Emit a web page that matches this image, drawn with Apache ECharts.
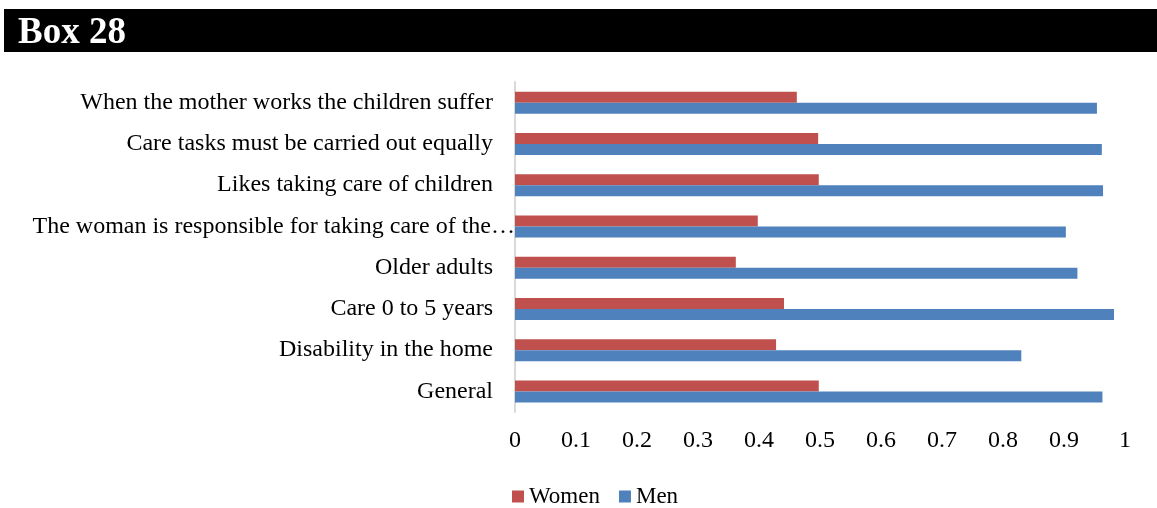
<!DOCTYPE html>
<html>
<head>
<meta charset="utf-8">
<title>Box 28</title>
<script src="https://cdn.jsdelivr.net/npm/echarts@6/dist/echarts.min.js"></script>
<style>
  html, body { margin: 0; padding: 0; background: #fff; }
  #chart { width: 1157px; height: 508px; }
</style>
</head>
<body>
<div id="chart"></div>
<script>
// categories listed bottom to top (as the category axis draws them)
const categories = [
  'General',
  'Disability in the home',
  'Care 0 to 5 years',
  'Older adults',
  'The woman is responsible for taking care of the\u2026',
  'Likes taking care of children',
  'Care tasks must be carried out equally',
  'When the mother works the children suffer'
]
const women = [0.498, 0.428, 0.441, 0.362, 0.398, 0.498, 0.497, 0.462]
const men = [0.963, 0.830, 0.982, 0.922, 0.903, 0.964, 0.962, 0.954]
const tickLabels = ['0', '0.1', '0.2', '0.3', '0.4', '0.5', '0.6', '0.7', '0.8', '0.9', '1']

const serif = 'Liberation Serif, Times New Roman, serif'

// the truncated label runs up to the axis line in the original
const categoryData = categories.map((name) =>
  name.endsWith('\u2026')
    ? { value: name, textStyle: { padding: [0, -22, 0, 0] } }
    : name
)

const chart = echarts.init(document.getElementById('chart'), null, { renderer: 'canvas' })

const option = {
  animation: false,
  backgroundColor: '#fff',
  graphic: [
    {
      type: 'rect',
      shape: { x: 4, y: 9, width: 1153, height: 43 },
      style: { fill: '#000' }
    },
    {
      type: 'text',
      x: 18,
      y: 33,
      style: {
        text: 'Box 28',
        fill: '#fff',
        font: 'bold 37px ' + serif,
        verticalAlign: 'middle'
      }
    }
  ],
  grid: { left: 515, right: 32, top: 82, bottom: 96, containLabel: false },
  legend: {
    data: ['Women', 'Men'],
    left: 507,
    top: 480,
    icon: 'rect',
    itemWidth: 12,
    itemHeight: 12,
    itemGap: 19,
    textStyle: { fontFamily: serif, fontSize: 23, color: '#000' }
  },
  xAxis: {
    type: 'value',
    min: 0,
    max: 1,
    interval: 0.1,
    axisLine: { show: false },
    axisTick: { show: false },
    splitLine: { show: false },
    axisLabel: {
      margin: 17,
      fontFamily: serif,
      fontSize: 24,
      color: '#000',
      formatter: (v) => tickLabels[Math.round(v * 10)]
    }
  },
  yAxis: {
    type: 'category',
    data: categoryData,
    axisTick: { show: false },
    axisLine: { show: true, lineStyle: { color: '#d9d9d9', width: 2 } },
    axisLabel: {
      margin: 22,
      fontFamily: serif,
      fontSize: 24,
      color: '#000'
    }
  },
  series: [
    {
      name: 'Women',
      type: 'bar',
      data: women,
      barWidth: 11,
      barGap: '0%',
      itemStyle: { color: '#C0504D' }
    },
    {
      name: 'Men',
      type: 'bar',
      data: men,
      barWidth: 11,
      barGap: '0%',
      itemStyle: { color: '#4F81BD' }
    }
  ]
}

chart.setOption(option)
window.addEventListener('resize', () => chart.resize())
</script>
</body>
</html>
